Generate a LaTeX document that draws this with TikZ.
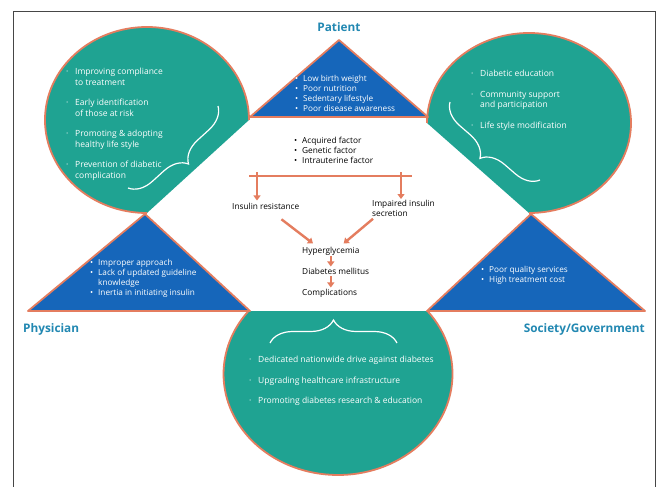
\documentclass[tikz,border=0pt]{standalone}
\usepackage{fontspec}
\setmainfont{Open Sans}
\usetikzlibrary{arrows.meta,decorations.pathreplacing}

\definecolor{tealfill}{RGB}{31,163,146}
\definecolor{bluefill}{RGB}{22,102,186}
\definecolor{edgeorange}{RGB}{228,125,95}
\definecolor{titleblue}{RGB}{34,136,178}
\definecolor{framegray}{RGB}{70,70,70}

% bullets: round dot for the lobes, heavy bullet for the wedges
\newcommand{\dotitem}{\makebox[9pt][l]{·}}
\newcommand{\bulitem}{\makebox[8pt][l]{•}}
\newcommand{\cont}{\hspace*{9pt}}
\newcommand{\bcont}{\hspace*{8pt}}

\begin{document}
\begin{tikzpicture}[x=1pt,y=-1pt,
  lobe/.style={fill=tealfill},
  lobeedge/.style={draw=edgeorange,line width=1.8pt},
  wedge/.style={fill=bluefill,draw=edgeorange,line width=1.8pt,line join=round},
  whitelist/.style={text=white,align=left,inner sep=0pt,anchor=north west,
    font=\fontsize{8.5}{10.5}\selectfont},
  wedgelist/.style={text=white,align=left,inner sep=0pt,anchor=north west,
    font=\fontsize{8.2}{10}\selectfont},
  flowtext/.style={text=black,inner sep=0pt,font=\fontsize{8.3}{10}\selectfont},
  title/.style={text=titleblue,inner sep=0pt,font=\bfseries\fontsize{11.8}{13}\selectfont},
  bar/.style={draw=edgeorange,line width=2.4pt},
  flowarrow/.style={draw=edgeorange,line width=2.4pt,-{Triangle[length=5pt,width=7pt]}},
  bracemark/.style={draw=white,line width=1.2pt,decorate,
    decoration={brace,amplitude=23pt}}
]
\useasboundingbox (0,0) rectangle (659,487);
\fill[white] (0,0) rectangle (659,487);

% outer frame
\draw[framegray,line width=0.8pt] (13,487) -- (13,11) -- (655,11) -- (655,487);

% --- teal lobes ---
% upper left: lower-right quarter cut away
\fill[lobe] (147,213) arc[start angle=90,end angle=360,x radius=102,y radius=93] -- cycle;
\draw[lobeedge] (147,213) arc[start angle=90,end angle=360,x radius=102,y radius=93];
% upper right: lower-left quarter cut away
\fill[lobe] (427,123) arc[start angle=180,end angle=450,x radius=102,y radius=90] -- cycle;
\draw[lobeedge] (427,123) arc[start angle=180,end angle=450,x radius=102,y radius=90];
% bottom: top cut flat
\fill[lobe] (427.5,311) arc[start angle=-38.6,end angle=218.6,x radius=114.5,y radius=101] -- cycle;
\draw[lobeedge] (427.5,311) arc[start angle=-38.6,end angle=218.6,x radius=114.5,y radius=101];

% --- blue wedges ---
\draw[wedge] (250,117) -- (428,117) -- (339,40) -- cycle;
\draw[wedge] (28,311) -- (250,311) -- (145,214) -- cycle;
\draw[wedge] (427,311) -- (645,311) -- (531,214) -- cycle;

% --- braces inside the lobes ---
\draw[bracemark] (218,106) -- (128,188);
\draw[bracemark] (540,180) -- (450,102);
\draw[bracemark] (270,343) -- (397,343);

% --- titles ---
\node[title,anchor=base] (patient) at (339,32) {Patient};
\node[title,anchor=base west] (physician) at (23,332) {Physician};
\node[title,anchor=base east] (society) at (645,332) {Society/Government};

% --- wedge lists ---
\node[wedgelist] (patlist) at (295,75) {\bulitem Low birth weight\\ \bulitem Poor nutrition\\
  \bulitem Sedentary lifestyle\\ \bulitem Poor disease awareness};
\node[wedgelist] (phylist) at (90,259) {\bulitem Improper approach\\ \bulitem Lack of updated guideline\\
  \bcont knowledge\\ \bulitem Inertia in initiating insulin};
\node[wedgelist] (soclist) at (481,266) {\bulitem Poor quality services\\ \bulitem High treatment cost};

% --- lobe lists ---
\node[whitelist] (leftlist) at (66,68) {\dotitem Improving compliance\\ \cont to treatment\\[10pt]
  \dotitem Early identification\\ \cont of those at risk\\[10pt]
  \dotitem Promoting \& adopting\\ \cont healthy life style\\[10pt]
  \dotitem Prevention of diabetic\\ \cont complication};
\node[whitelist] (rightlist) at (471,70) {\dotitem Diabetic education\\[10pt]
  \dotitem Community support\\ \cont and participation\\[10pt]
  \dotitem Life style modification};
\node[whitelist] (bottomlist) at (249,356) {\dotitem Dedicated nationwide drive against diabetes\\[10pt]
  \dotitem Upgrading healthcare infrastructure\\[10pt]
  \dotitem Promoting diabetes research \& education};

% --- central pathway ---
\node[flowtext,align=left,anchor=north west] (factors) at (294,137)
  {\bulitem Acquired factor\\ \bulitem Genetic factor\\ \bulitem Intrauterine factor};
\coordinate (barL) at (249,176);
\coordinate (barR) at (412,176);
\coordinate (tapL) at (257,172);
\coordinate (tapR) at (401,172);
\node[flowtext,anchor=base west] (ir) at (232,209) {Insulin resistance};
\node[flowtext,align=left,anchor=north west] (iis) at (372,200) {Impaired insulin\\secretion};
\node[flowtext,anchor=base west] (hyper) at (302,253) {Hyperglycemia};
\node[flowtext,anchor=base west] (dm) at (302,274) {Diabetes mellitus};
\node[flowtext,anchor=base west] (comp) at (302,295) {Complications};

\draw[bar] (barL) -- (barR);
\draw[flowarrow] (tapL) -- ([yshift=2pt]tapL |- ir.north);
\draw[flowarrow] (tapR) -- ([yshift=1pt]tapR |- iis.north);
\draw[flowarrow] ([xshift=-18pt,yshift=-10pt]ir.south east) -- ([xshift=11pt,yshift=3pt]hyper.north west);
\draw[flowarrow] ([xshift=1pt,yshift=-2pt]iis.south west) -- ([xshift=-16pt,yshift=3pt]hyper.north east);
\draw[flowarrow] ([yshift=-1pt]hyper.south) -- ([yshift=1pt]hyper.south |- dm.north);
\draw[flowarrow] ([yshift=-2pt]hyper.south |- dm.south) -- ([yshift=1pt]hyper.south |- comp.north);
\end{tikzpicture}
\end{document}
